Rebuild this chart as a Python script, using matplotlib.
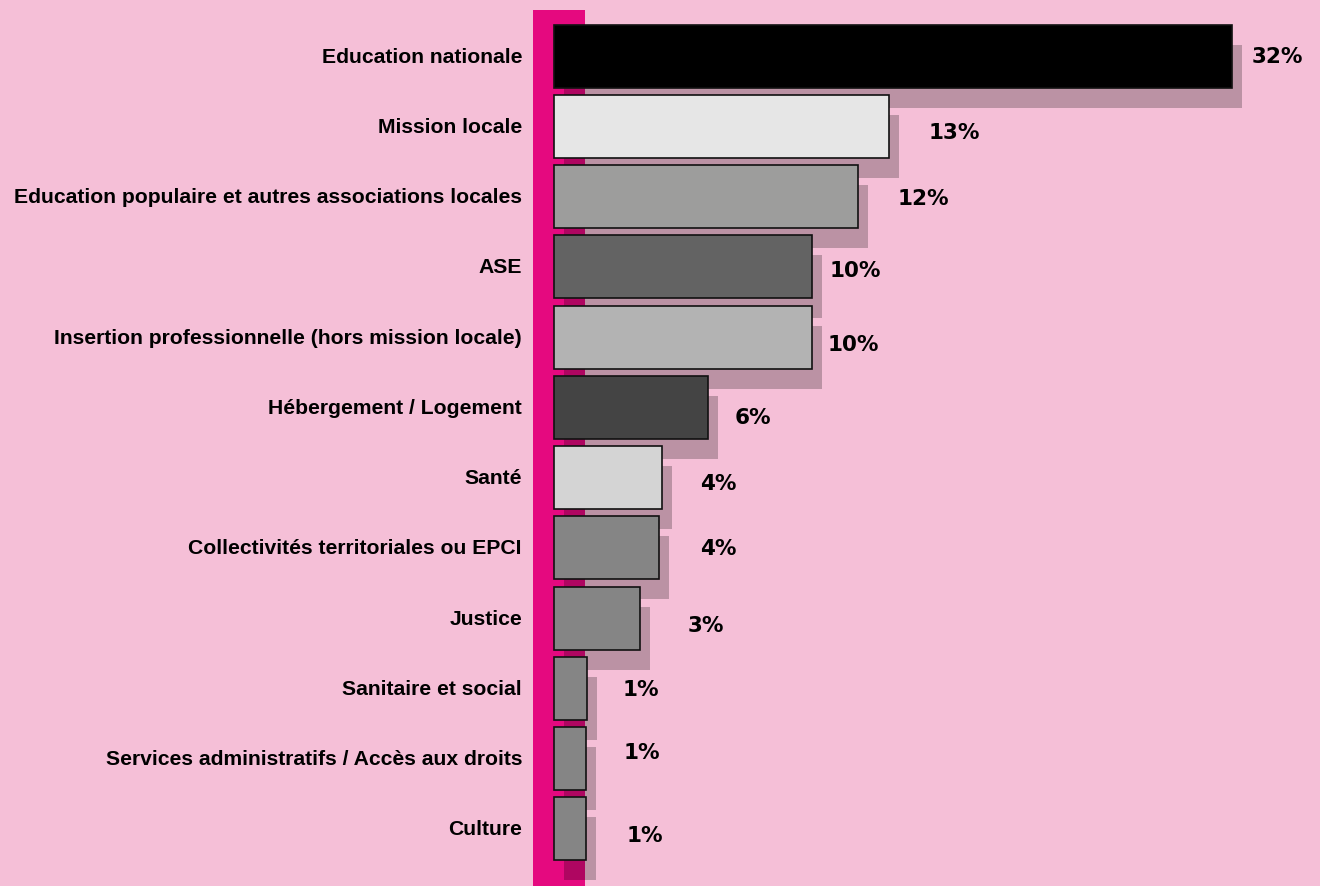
import matplotlib
matplotlib.use("Agg")
import matplotlib.pyplot as plt
from matplotlib.patches import Rectangle
from matplotlib.transforms import ScaledTranslation

# categories, top to bottom
categories = [
    "Education nationale",
    "Mission locale",
    "Education populaire et autres associations locales",
    "ASE",
    "Insertion professionnelle (hors mission locale)",
    "Hébergement / Logement",
    "Santé",
    "Collectivités territoriales ou EPCI",
    "Justice",
    "Sanitaire et social",
    "Services administratifs / Accès aux droits",
    "Culture",
]
# bar lengths as drawn in the picture (not strictly proportional to the labels)
values = [32, 15.8, 14.35, 12.2, 12.2, 7.25, 5.1, 4.95, 4.05, 1.55, 1.5, 1.5]
pct_labels = ["32%", "13%", "12%", "10%", "10%", "6%", "4%", "4%", "3%", "1%", "1%", "1%"]
bar_colors = ["#000000", "#E6E6E6", "#9D9D9C", "#636363", "#B3B3B3", "#444444",
              "#D4D4D4", "#858585", "#858585", "#858585", "#858585", "#858585"]

# hand placement of the % labels (pixels from bar end / bar centre)
label_dx = [20, 40, 40, 17, 15, 27, 38, 41, 48, 36, 38, 41]
label_dy = [0, -6, -1, -3, -7, -10, -5, 0, -7, -1, 7, -6]

BG = "#F5BFD7"
MAGENTA = "#E5097F"

W, H, DPI = 1320, 887, 100
fig = plt.figure(figsize=(W / DPI, H / DPI), dpi=DPI, facecolor=BG)

# axes: x=0 at px 554, x=32 at px 1232 ; rows span px 22..865
ax = fig.add_axes([554 / W, 1 - 865 / H, 678 / W, 843 / H])
ax.patch.set_visible(False)
ax.set_xlim(0, 32)
ax.set_ylim(len(categories) - 0.5, -0.5)
for s in ax.spines.values():
    s.set_visible(False)
ax.set_xticks([])
ax.set_yticks([])

# magenta strip behind the bars
fig.add_artist(Rectangle((533 / W, 0), 52 / W, 1 - 11 / H, transform=fig.transFigure,
                         facecolor=MAGENTA, edgecolor="none", zorder=-1))

ypos = list(range(len(categories)))
shadow_tr = ax.transData + ScaledTranslation(10 / DPI, -20 / DPI, fig.dpi_scale_trans)
shadows = ax.barh(ypos, values, height=0.9, color="black", alpha=0.235, linewidth=0, zorder=1)
for p in shadows:
    p.set_transform(shadow_tr)
    p.set_clip_on(False)

bars = ax.barh(ypos, values, height=0.9, color=bar_colors, edgecolor="#111111",
               linewidth=1.2, zorder=2)
for p in bars:
    p.set_clip_on(False)

for i, (v, name, lab) in enumerate(zip(values, categories, pct_labels)):
    ax.annotate(name, (0, i), xytext=(-32, 0), textcoords="offset pixels",
                ha="right", va="center", fontsize=15.2, fontweight="bold",
                family="Liberation Sans", color="black", annotation_clip=False)
    ax.annotate(lab, (v, i), xytext=(label_dx[i], label_dy[i]), textcoords="offset pixels",
                ha="left", va="center", fontsize=15.5, fontweight="bold",
                family="DejaVu Sans", color="black", annotation_clip=False)

fig.savefig("out.png", dpi=DPI, facecolor=BG)
